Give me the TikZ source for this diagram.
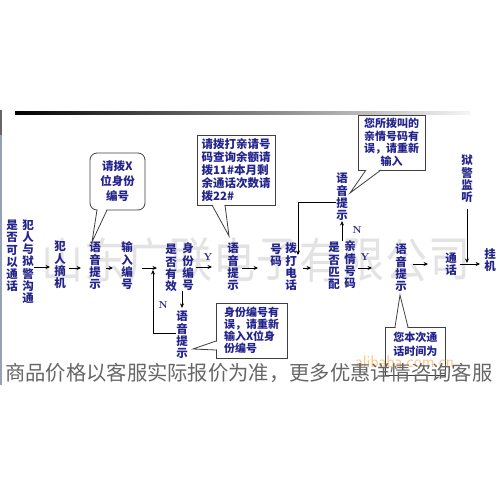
\documentclass[tikz,border=0pt]{standalone}
\usepackage{fontspec}
\newfontfamily\cjk{Noto Sans CJK SC}
\usetikzlibrary{arrows.meta,calc}
\definecolor{navy}{RGB}{35,35,140}
\definecolor{barblue}{RGB}{150,160,182}
\begin{document}
\begin{tikzpicture}[x=1pt,y=-1pt,
 lbl/.style={font=\cjk\bfseries\fontsize{11.5}{12.3}\selectfont, text=navy, align=center, inner sep=0pt},
 arr/.style={draw=black, line width=0.8pt, -{Stealth[length=4.5pt,width=4pt]}},
 wedge/.style={draw=black!75, line width=0.8pt},
 boxb/.style={draw=black!75, line width=0.8pt, fill=white, text=navy, inner sep=0pt},
 yn/.style={font=\bfseries\fontsize{10}{10}\selectfont, text=navy, inner sep=0pt},
 wm/.style={font=\cjk\fontsize{42}{42}\selectfont, text=black!11, inner sep=0pt}]
\fill[white] (0,0) rectangle (500,500);
\useasboundingbox (0,0) rectangle (500,500);

% header rule and left bar
\shade[left color=black, middle color=black!45, right color=black!4] (15,111.8) rectangle (470,114.2);
\draw[line width=2.2pt, black!60] (1,110) -- (1,135);
\draw[line width=2.2pt, barblue] (1,135) -- (1,385);

% watermark
\foreach \c [count=\i from 0] in {山,东,广,联,电,子,有,限,公,司}
  \node[wm] (wm\i) at (62+43*\i,260) {\scalebox{1}[1.15]{\c}};

% flow labels
\node[lbl] (A1) at (28,261.5) {犯\\人\\与\\狱\\警\\沟\\通};
\node[lbl] (A2) at (12,256) {是\\否\\可\\以\\通\\话};
\node[lbl] (B) at (60,265) {犯\\人\\摘\\机};
\node[lbl] (C) at (95,266) {语\\音\\提\\示};
\node[lbl] (D) at (127,266) {输\\入\\编\\号};
\node[lbl] (E2) at (171,268) {是\\否\\有\\效};
\node[lbl] (E1) at (188,267) {身\\份\\编\\号};
\node[lbl] (F) at (182,335) {语\\音\\提\\示};
\node[lbl] (G) at (233,267) {语\\音\\提\\示};
\node[lbl] (H2) at (276,255) {号\\码};
\node[lbl] (H1) at (291,267) {拨\\打\\电\\话};
\node[lbl] (I) at (342,197) {语\\音\\提\\示};
\node[lbl] (J2) at (334,266) {是\\否\\匹\\配};
\node[lbl] (J1) at (350,265) {亲\\情\\号\\码};
\node[lbl] (K) at (401,268) {语\\音\\提\\示};
\node[lbl] (L) at (451,264) {通\\话};
\node[lbl] (M) at (467,179) {狱\\警\\监\\听};
\node[lbl] (N) at (490,260) {挂\\机};

% connectors
\coordinate (j1) at (157,268);
\coordinate (j2) at (153,333);
\coordinate (j3) at (153,270);
\coordinate (h1top) at (298,255);
\coordinate (hang) at (467,263);
\draw[arr, shorten >=4pt] (A1.east |- 0,267) -- (B.west |- 0,267);
\draw[arr, shorten <=3pt, shorten >=8pt] (B.east |- 0,268) -- (C.west |- 0,268);
\draw[arr, shorten <=5pt, shorten >=8pt] (C.east |- 0,268) -- (D.west |- 0,268);
\draw[arr, shorten <=9pt] (D.east |- 0,268) -- (j1);
\draw[arr, shorten >=3pt] (F.north |- E1.south) -- (F.north);
\node[yn] (n1) at (163,305) {N};
\draw[arr] (F.west |- j2) -- (j2) -- (j3);
\draw[arr, shorten <=2pt, shorten >=15pt] (E1.east |- 0,267) -- (G.west |- 0,267);
\node[yn] (y1) at (208,257) {Y};
\draw[arr, shorten <=3pt, shorten >=12pt] (G.east |- 0,268) -- (H2.west |- 0,268);
\draw[arr, shorten <=6pt, shorten >=17pt] (H1.east |- 0,268) -- (J2.west |- 0,268);
\draw[arr] (I.west |- 0,202) -| (h1top);
\draw[arr] (I.south |- J1.north) -- (I.south);
\node[yn] (n2) at (357,230) {N};
\draw[arr, shorten <=2pt, shorten >=23pt] (J1.east |- 0,268) -- (K.west |- 0,268);
\node[yn] (y2) at (365,257) {Y};
\draw[arr, shorten <=6pt, shorten >=17pt] (K.east |- 0,264) -- (L.west |- 0,264);
\draw[arr, shorten <=3pt, shorten >=4pt] (L.east |- 0,264) -- (N.west |- 0,264);
\draw[arr, shorten <=6pt] (M.south) -- (hang);

% callouts
\node[boxb, rounded corners=7pt, minimum width=55pt, minimum height=57pt, align=center,
  font=\cjk\bfseries\fontsize{11.5}{15}\selectfont] (cl1) at (117.5,181.5) {请拨X\\位身份\\编号};
\fill[white] (97.6,209.2) -- (92,242) -- (106.4,209.2) -- cycle;
\draw[wedge] (97,210) -- (92,242) -- (107,210);

\node[boxb, minimum width=78pt, minimum height=70pt, align=left,
  font=\cjk\bfseries\fontsize{11.5}{13}\selectfont] (cl2) at (236,170)
  {请拨打亲请号\\码查询余额请\\拨11\#本月剩\\余通话次数请\\拨22\#};
\fill[white] (212.6,204.2) -- (229,236) -- (224.4,204.2) -- cycle;
\draw[wedge] (212,205) -- (229,236) -- (225,205);

\node[boxb, minimum width=71pt, minimum height=55pt, align=left,
  font=\cjk\bfseries\fontsize{11}{12}\selectfont] (cl3) at (251.5,330.5)
  {身份编号有\\误，请重新\\输入X位身\\份编号};
\fill[white] (216.8,341.6) -- (193,349) -- (216.8,349.4) -- cycle;
\draw[wedge] (216,341) -- (193,349) -- (216,350);

\node[boxb, minimum width=67pt, minimum height=55pt, align=center,
  font=\cjk\bfseries\fontsize{11}{12.5}\selectfont] (cl4) at (391.5,142.5)
  {您所拨叫的\\亲情号码有\\误，请重新\\输入};
\fill[white] (366.6,169.2) -- (350,193) -- (380.4,169.2) -- cycle;
\draw[wedge] (366,170) -- (350,193) -- (381,170);

\node[boxb, anchor=north west, minimum width=60pt, minimum height=48pt, align=left,
  font=\cjk\bfseries\fontsize{11}{14}\selectfont] (cl5) at (385,327)
  {您本次通\\话时间为\\\phantom{话}};
\fill[white] (395.6,327.8) -- (400,295) -- (407.4,327.8) -- cycle;
\draw[wedge] (395,327) -- (400,295) -- (408,327);

% footer overlays
\node[anchor=west, font=\sffamily\fontsize{17}{17}\selectfont, text=orange!45, inner sep=0pt] (ali) at (355,362) {alibaba.com.cn};
\node[anchor=west, font=\cjk\fontsize{20.3}{20.3}\selectfont, text=black!60, inner sep=0pt] (note) at (5,373)
  {商品价格以客服实际报价为准，更多优惠详情咨询客服};
\end{tikzpicture}
\end{document}
